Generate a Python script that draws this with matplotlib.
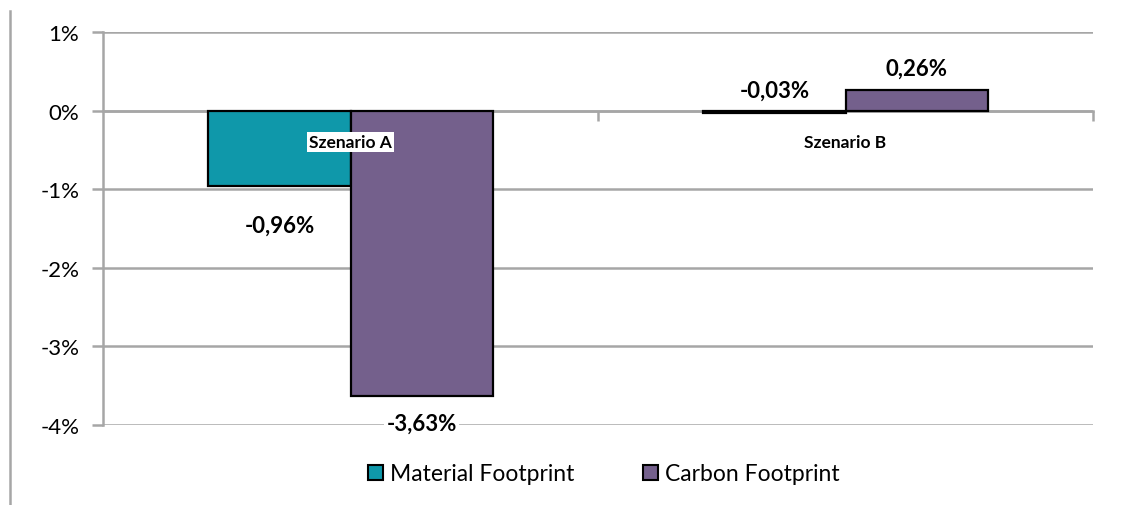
import matplotlib.pyplot as plt
from matplotlib.lines import Line2D
from matplotlib.patches import Patch
import numpy as np

plt.rcParams["font.family"] = ["Lato", "DejaVu Sans"]

scenarios = ["Szenario A", "Szenario B"]
series = ["Material Footprint", "Carbon Footprint"]
material = [-0.96, -0.03]
carbon = [-3.63, 0.26]
colors = ["#0F98AA", "#74608C"]

# pixel offsets of the value labels from each bar end (x, y)
label_offsets = {
    "Material Footprint": [(0, -39), (0, 23)],
    "Carbon Footprint": [(0, -27), (0, 22)],
}

grid_gray = "#A6A6A6"

fig = plt.figure(figsize=(11.23, 5.06), dpi=100)
ax = fig.add_axes([103 / 1123, 1 - 426 / 506, 990 / 1123, (426 - 33) / 506])

x = np.arange(len(scenarios))
width = 0.287
for values, name, color, shift in zip([material, carbon], series, colors, [-width / 2, width / 2]):
    bars = ax.bar(x + shift, values, width, color=color, edgecolor="black",
                  linewidth=1.6, zorder=2, label=name)
    for bar, v, off in zip(bars, values, label_offsets[name]):
        txt = f"{v:.2f}%".replace(".", ",")
        bbox = dict(facecolor="white", edgecolor="none", pad=2) if v < -3 else None
        ax.annotate(txt, xy=(bar.get_x() + bar.get_width() / 2, v), xytext=off,
                    textcoords="offset pixels", ha="center", va="center",
                    fontsize=16, fontweight="bold", color="black", bbox=bbox, zorder=5)

# category labels just below the zero line
for xi, name in zip(x, scenarios):
    ax.annotate(name, xy=(xi, 0), xytext=(0, -31), textcoords="offset pixels",
                ha="center", va="center", fontsize=12.5, fontweight="bold",
                bbox=dict(facecolor="white", edgecolor="none", pad=1.5), zorder=5)

ax.set_xlim(-0.5, 1.5)
ax.set_ylim(-4, 1)
ax.set_yticks([1, 0, -1, -2, -3, -4])
ax.set_yticklabels(["1%", "0%", "-1%", "-2%", "-3%", "-4%"])
ax.set_axisbelow(True)
ax.yaxis.grid(True, color=grid_gray, linewidth=1.8)
ax.tick_params(axis="y", length=8, width=1.8, color=grid_gray, labelsize=16, pad=9)

ax.set_xticks([])
ax.set_xticks([0.5, 1.5], minor=True)
ax.tick_params(axis="x", which="minor", length=7, width=1.8, color=grid_gray, direction="out")

ax.spines["bottom"].set_position(("data", 0))
ax.spines["bottom"].set_color(grid_gray)
ax.spines["bottom"].set_linewidth(1.8)
ax.spines["bottom"].set_zorder(1)
ax.spines["left"].set_color(grid_gray)
ax.spines["left"].set_linewidth(1.8)
for side in ["top", "right"]:
    ax.spines[side].set_visible(False)

handles = [Patch(facecolor=c, edgecolor="black", linewidth=1.5) for c in colors]
fig.legend(handles, series, loc="center", bbox_to_anchor=(604 / 1123, 1 - 475 / 506),
           ncol=2, frameon=False, fontsize=16.5, handlelength=0.65, handleheight=0.65,
           handletextpad=0.3, columnspacing=3.0)

# chart area border on the left
fig.add_artist(Line2D([10 / 1123, 10 / 1123], [1 - 12 / 506, 0], color=grid_gray, linewidth=1.8))

fig.savefig("out.png", dpi=100)
